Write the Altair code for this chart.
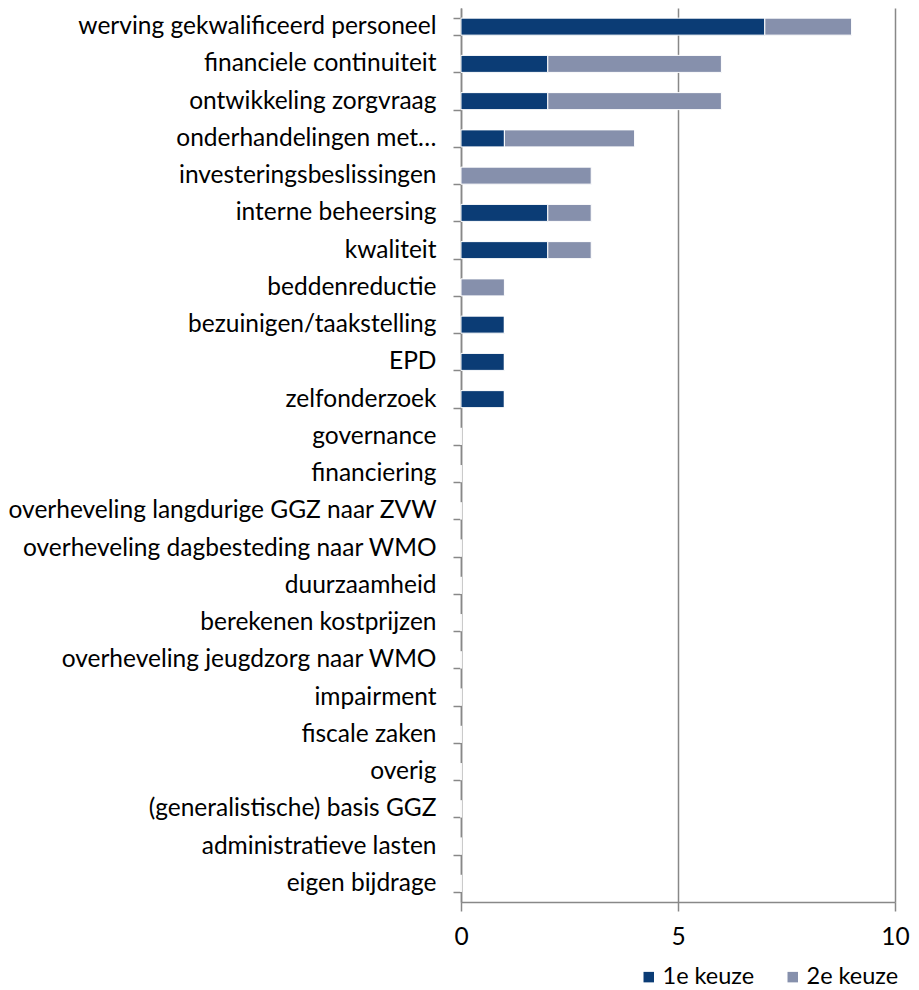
import altair as alt
import pandas as pd

categories = [
    "werving gekwalificeerd personeel",
    "financiele continuiteit",
    "ontwikkeling zorgvraag",
    "onderhandelingen met…",
    "investeringsbeslissingen",
    "interne beheersing",
    "kwaliteit",
    "beddenreductie",
    "bezuinigen/taakstelling",
    "EPD",
    "zelfonderzoek",
    "governance",
    "financiering",
    "overheveling langdurige GGZ naar ZVW",
    "overheveling dagbesteding naar WMO",
    "duurzaamheid",
    "berekenen kostprijzen",
    "overheveling jeugdzorg naar WMO",
    "impairment",
    "fiscale zaken",
    "overig",
    "(generalistische) basis GGZ",
    "administratieve lasten",
    "eigen bijdrage",
]
keuze1 = [7, 2, 2, 1, 0, 2, 2, 0, 1, 1, 1, 0, 0, 0, 0, 0, 0, 0, 0, 0, 0, 0, 0, 0]
keuze2 = [2, 4, 4, 3, 3, 1, 1, 1, 0, 0, 0, 0, 0, 0, 0, 0, 0, 0, 0, 0, 0, 0, 0, 0]
series = ["1e keuze", "2e keuze"]
colors = ["#0B3C75", "#8690AC"]

rows = []
for c, a, b in zip(categories, keuze1, keuze2):
    rows.append({"cat": c, "serie": series[0], "val": a, "ord": 0})
    rows.append({"cat": c, "serie": series[1], "val": b, "ord": 1})
df = pd.DataFrame(rows)

FONT = "Lato"
FS = 24.5

chart = alt.Chart(df).mark_bar(size=17, stroke="white", strokeWidth=1).encode(
    y=alt.Y("cat:N", sort=categories, title=None,
            scale=alt.Scale(paddingInner=0.55, paddingOuter=0.275),
            axis=alt.Axis(tickBand="extent", tickSize=8, tickColor="#888888",
                          domainColor="#888888", domainWidth=1.5, tickWidth=1.5,
                          labelPadding=17, labelFontSize=FS, labelFont=FONT,
                          labelColor="#000000", grid=False, labelLimit=600)),
    x=alt.X("val:Q", title=None, stack="zero",
            scale=alt.Scale(domain=[0, 10], nice=False),
            axis=alt.Axis(values=[0, 5, 10], tickSize=9, tickColor="#888888",
                          domainColor="#888888", domainWidth=1.5, tickWidth=1.5,
                          grid=True, gridColor="#888888", gridWidth=1.5,
                          labelPadding=14, labelFontSize=FS, labelFont=FONT,
                          labelColor="#000000", labelFlush=False)),
    color=alt.Color("serie:N", scale=alt.Scale(domain=series, range=colors),
                    legend=alt.Legend(title=None, orient="none", direction="horizontal",
                                      legendX=176, legendY=957,
                                      symbolType="square", symbolSize=110,
                                      symbolStrokeWidth=0, labelFontSize=23.5,
                                      labelFont=FONT, labelColor="#000000",
                                      columnPadding=26, labelOffset=2)),
    order=alt.Order("ord:Q"),
).properties(
    width=434, height=894,
    autosize=alt.AutoSizeParams(type="none"),
    padding={"left": 453, "top": 0, "right": 16, "bottom": 86},
).configure_view(stroke=None)

chart.save("out.html", embed_options={"renderer": "svg", "actions": False})
